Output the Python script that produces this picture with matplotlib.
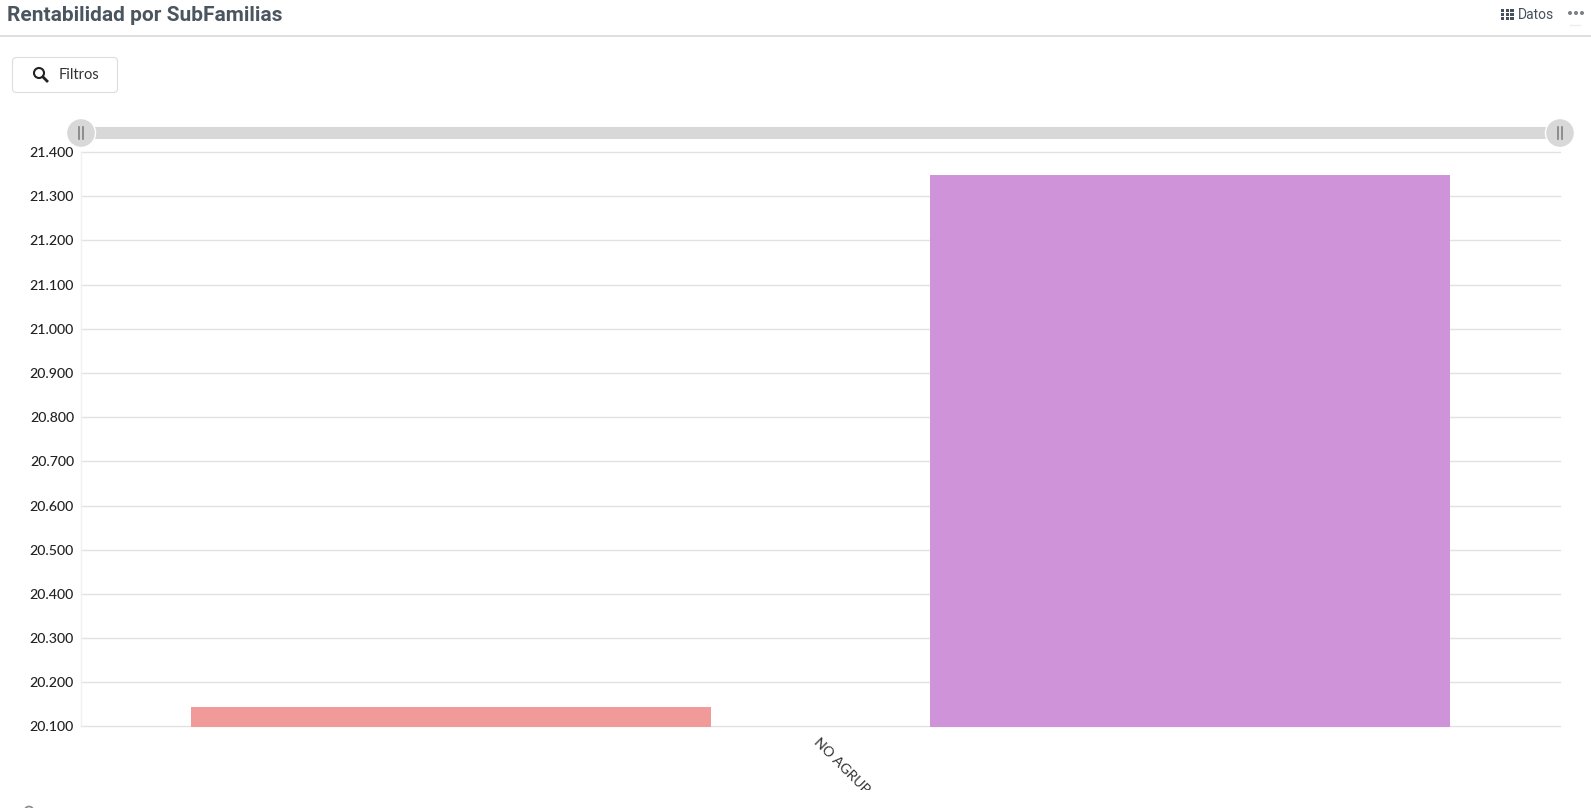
import matplotlib
matplotlib.use("Agg")
import matplotlib.pyplot as plt
from matplotlib.patches import Circle, FancyBboxPatch, Rectangle
from matplotlib.lines import Line2D
from matplotlib.transforms import Bbox

W, H = 1591, 808
categories = ["NO AGRUP"]
serie_a = [20.144]
serie_b = [21.348]
colors = ["#f09a9a", "#ce93d8"]
yticks = [20.1, 20.2, 20.3, 20.4, 20.5, 20.6, 20.7, 20.8, 20.9, 21.0, 21.1, 21.2, 21.3, 21.4]
ytick_labels = ["20.100", "20.200", "20.300", "20.400", "20.500", "20.600", "20.700",
                "20.800", "20.900", "21.000", "21.100", "21.200", "21.300", "21.400"]

fig = plt.figure(figsize=(W / 100, H / 100), dpi=100, facecolor="white")

# plot area, in pixels from the top left
left, right, top, bottom = 81, 1560, 152, 726.5
ax = fig.add_axes([left / W, 1 - bottom / H, (right - left) / W, (bottom - top) / H])
ax.set_xlim(-0.5, 0.5)
ax.set_ylim(20.1, 21.4)
ax.bar(-0.25, serie_a, width=0.3515, color=colors[0], zorder=3)
ax.bar(0.25, serie_b, width=0.3515, color=colors[1], zorder=3)

ax.set_yticks(yticks)
ax.set_yticklabels(ytick_labels, family="Lato", fontsize=10.2, color="#222222")
for lab in ax.get_yticklabels():
    lab.set_fontweight("medium")
ax.set_xticks([0])
ax.set_xticklabels(categories, family="Lato", fontsize=10.2, color="#333333",
                   rotation=-45, ha="left", va="top", rotation_mode="anchor")
ax.tick_params(axis="y", length=0, pad=5)
ax.tick_params(axis="x", length=0, pad=6.5)
ax.grid(axis="y", color="#e2e2e2", linewidth=1, zorder=0)
for line in ax.get_ygridlines():
    line.set_clip_on(False)
for s in ["top", "right", "bottom"]:
    ax.spines[s].set_visible(False)
ax.spines["left"].set_color("#f0f0f0")
ax.spines["left"].set_linewidth(1)

# the label is cut by the chart's container
for lab in ax.get_xticklabels():
    lab.set_clip_on(True)
    lab.set_clip_box(Bbox([[0, H - 790], [W, H]]))

# page chrome drawn in pixel coordinates
ui = fig.add_axes([0, 0, 1, 1], zorder=5)
ui.set_xlim(0, W)
ui.set_ylim(H, 0)
ui.axis("off")
ui.patch.set_alpha(0)

ui.text(7, 15.5, "Rentabilidad por SubFamilias", family="Roboto", fontsize=15, fontweight="bold",
        color="#4a5560", va="center", ha="left")
ui.add_line(Line2D([0, W], [35.5, 35.5], color="#d6d6d6", lw=1.1))

# Datos icon and menu dots
for r in range(3):
    for c in range(3):
        ui.add_patch(Rectangle((1501 + c * 4.7, 8.5 + r * 4.4), 3.3, 3.2, color="#46505a", lw=0))
ui.text(1518, 15, "Datos", family="Roboto", fontsize=10, color="#46505a", va="center", ha="left")
for x in [1570, 1576, 1582]:
    ui.add_patch(Circle((x, 13), 2, color="#7b8086", lw=0))
ui.add_line(Line2D([1570, 1580], [24.5, 24.5], color="#eeeeee", lw=1))

# Filtros button
ui.add_patch(FancyBboxPatch((12.5, 57.5), 105, 35, boxstyle="round,pad=0,rounding_size=4",
                            fc="white", ec="#dedede", lw=0.8))
ui.add_patch(Circle((39, 73), 5, fc="none", ec="#222222", lw=1.5))
ui.add_line(Line2D([43, 47], [77, 81], color="#222222", lw=2))
ui.text(58.5, 75, "Filtros", family="Lato", fontsize=10.5, color="#333333", va="center", ha="left")

# range slider
ui.add_patch(Rectangle((81, 127), 1479, 12, color="#d8d8d8", lw=0))
for x in [81, 1560]:
    ui.add_patch(Circle((x, 133), 14.5, fc="#d8d8d8", ec="white", lw=1))
    for dx in [-2.5, 2]:
        ui.add_line(Line2D([x + dx, x + dx], [127, 139], color="#808080", lw=1.2))

# cut off control at the bottom edge
ui.add_patch(Circle((29, 811), 4.5, fc="none", ec="#8a8a8a", lw=1.2))

fig.savefig("out.png", dpi=100, facecolor="white")
